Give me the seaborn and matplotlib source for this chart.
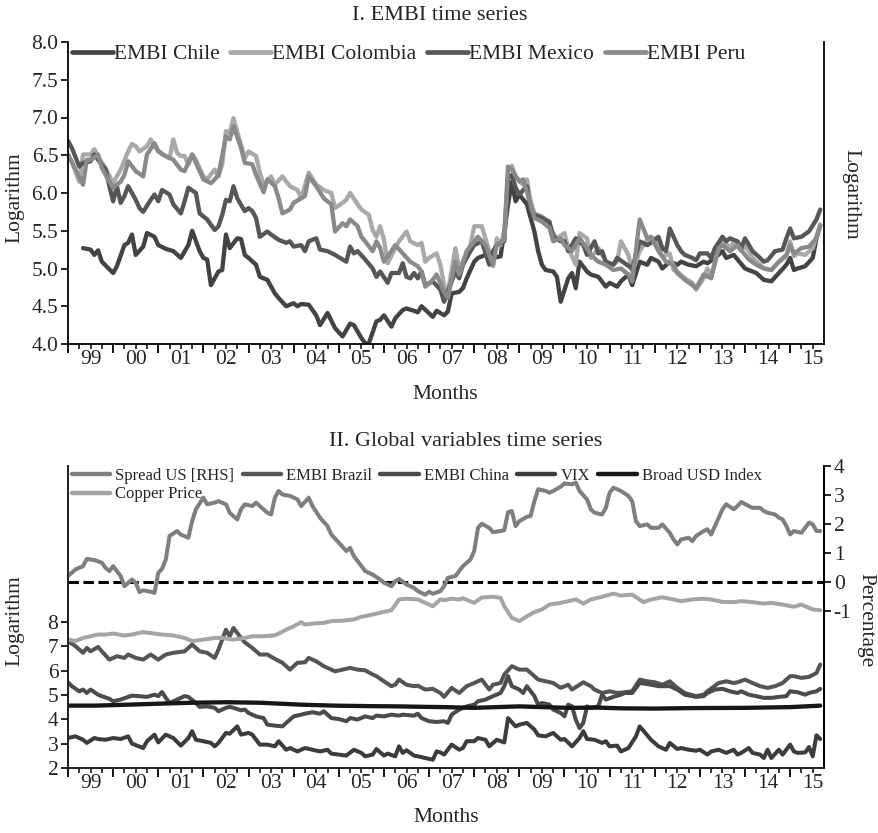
import numpy as np
import matplotlib
matplotlib.use("Agg")
import matplotlib.pyplot as plt
import seaborn as sns
from matplotlib.lines import Line2D
from matplotlib.ticker import FuncFormatter, FixedLocator

sns.set_theme(style="ticks")
plt.rcParams['font.family'] = ['Liberation Serif', 'DejaVu Serif']
plt.rcParams['axes.unicode_minus'] = False

# ---------------- data (month index: 0 = Jan 1999) ----------------
chile_month = [4,6,7,8,9,12,13,15,16,17,18,20,21,23,24,26,28,30,32,33,35,36,37,38,40,41,42,43,45,46,47,48,50,51,53,55,56,58,60,61,62,64,66,67,69,71,73,75,76,78,79,80,82,83,84,86,87,89,90,92,93,94,97,98,
               100,101,102,104,105,106,108,109,111,113,115,116,117,118,119,120,122,123,124,125,126,127,129,130,131,133,134,135,136,138,139,141,143,144,146,147,149,150,152,154,155,157,158,160,162,163,165,167,169,170,172,174,175,177,178,180,181,183,185,187,189,191,192,193,194,196,198,199,200]
chile_value = [5.27,5.25,5.18,5.24,5.09,4.94,5.03,5.31,5.34,5.45,5.18,5.29,5.47,5.42,5.31,5.26,5.23,5.14,5.31,5.50,5.23,5.14,5.12,4.78,4.96,4.98,5.45,5.27,5.40,5.39,5.18,5.14,5.05,4.89,4.85,4.67,4.61,4.50,4.54,4.50,4.53,4.52,4.38,4.25,4.41,4.21,4.10,4.27,4.25,4.08,4.01,4.01,4.30,4.32,4.38,4.23,4.34,4.45,4.47,4.44,4.42,4.50,4.36,4.44,
               4.38,4.43,4.67,4.69,4.74,4.87,5.09,5.14,5.18,5.14,5.16,5.49,5.85,6.15,5.89,5.98,5.85,5.67,5.49,5.23,5.05,4.98,4.96,4.89,4.56,4.87,4.94,4.74,5.09,4.96,4.92,4.89,4.76,4.81,4.76,4.83,4.92,4.78,5.09,5.05,5.14,5.09,5.00,5.09,5.05,5.09,5.05,5.03,5.09,5.07,5.14,5.23,5.14,5.18,5.12,5.00,4.98,4.94,4.85,4.83,4.94,5.05,5.14,4.98,5.00,5.03,5.14,5.40,5.58]

mexico_month = [0,1,3,4,6,7,8,10,11,12,13,14,15,16,18,19,20,22,23,24,25,27,28,30,31,32,34,35,37,39,40,41,42,43,44,45,47,48,49,50,51,53,54,56,58,59,60,62,63,64,66,67,69,71,74,75,76,77,79,81,82,83,85,86,88,89,90,91,92,93,94,95,97,99,
                100,101,103,104,105,107,108,110,112,113,114,116,117,118,119,120,122,123,124,126,128,129,131,132,133,135,137,138,140,141,142,143,145,146,148,150,152,154,155,157,158,159,160,162,163,164,166,167,168,170,171,172,174,175,176,178,179,180,182,184,185,186,188,190,191,192,193,195,197,199,200]
mexico_value = [6.69,6.60,6.35,6.40,6.42,6.51,6.44,6.31,6.09,5.89,6.09,5.87,5.96,6.09,5.91,5.80,5.75,5.91,5.98,5.89,6.04,5.98,5.85,5.73,5.89,6.07,6.00,5.73,5.65,5.51,5.56,5.71,5.91,5.89,6.09,5.93,5.76,5.80,5.76,5.67,5.42,5.49,5.45,5.38,5.34,5.36,5.29,5.31,5.23,5.36,5.40,5.25,5.23,5.18,5.09,5.29,5.20,5.23,5.12,5.00,4.89,4.96,4.81,4.94,4.94,5.07,4.89,4.87,4.94,4.87,4.96,4.78,4.83,4.72,
                4.56,4.69,4.96,4.87,5.05,5.23,5.31,5.36,5.05,5.23,5.31,5.36,6.20,6.24,6.07,5.98,6.09,5.76,5.71,5.67,5.62,5.42,5.36,5.36,5.23,5.40,5.31,5.18,5.36,5.20,5.23,5.09,5.05,5.14,5.07,5.00,5.36,5.31,5.34,5.42,5.27,5.23,5.53,5.31,5.23,5.18,5.14,5.11,5.20,5.20,5.14,5.27,5.42,5.36,5.40,5.36,5.27,5.40,5.23,5.14,5.09,5.11,5.23,5.25,5.40,5.53,5.40,5.42,5.49,5.65,5.78]

colombia_month = [0,1,3,4,6,7,9,10,12,13,14,16,17,18,19,21,22,23,25,27,28,29,30,31,32,33,34,36,37,39,40,41,42,43,44,46,47,48,50,51,52,54,55,57,59,61,62,64,66,68,70,71,73,74,75,77,78,80,81,82,83,84,85,87,88,90,91,93,94,95,96,98,99,
                  100,101,103,104,105,107,108,110,112,113,114,115,116,117,118,119,121,122,123,124,126,127,129,130,132,133,135,136,138,139,141,143,145,146,147,149,150,152,154,156,158,160,161,162,164,166,167,169,170,171,173,174,176,177,179,180,182,184,185,187,189,191,192,193,194,196,198,200]
colombia_value = [6.49,6.42,6.15,6.51,6.51,6.58,6.40,6.33,6.13,6.22,6.31,6.55,6.65,6.62,6.55,6.62,6.71,6.62,6.51,6.46,6.71,6.53,6.49,6.49,6.38,6.51,6.44,6.22,6.18,6.31,6.22,6.38,6.82,6.80,6.99,6.64,6.46,6.55,6.49,6.27,6.11,6.22,6.11,6.22,6.09,6.04,5.93,6.27,6.11,6.04,6.00,5.80,5.87,5.91,6.00,5.85,5.78,5.71,5.51,5.42,5.56,5.38,5.07,5.27,5.36,5.49,5.36,5.31,5.34,5.09,5.14,5.20,5.05,
                  4.78,4.69,5.27,5.00,5.09,5.31,5.56,5.56,5.23,5.03,5.40,5.31,5.49,6.31,6.36,6.22,6.11,6.18,5.89,5.73,5.69,5.65,5.47,5.40,5.47,5.27,5.05,5.47,5.40,5.14,5.27,5.09,5.05,5.09,5.36,5.18,4.96,5.23,5.38,5.40,5.16,5.20,4.98,4.96,4.87,4.81,4.72,4.87,5.00,4.89,5.31,5.38,5.27,5.36,5.23,5.31,5.14,5.05,5.00,4.98,5.09,5.16,5.36,5.16,5.20,5.18,5.27,5.58]

peru_month = [0,2,4,5,6,8,9,11,12,14,15,16,18,20,21,23,24,26,28,30,31,33,34,36,38,39,40,42,43,44,46,47,49,50,52,53,55,56,57,59,60,62,63,64,66,68,70,71,73,74,75,77,78,79,81,82,83,84,86,87,89,91,93,94,95,97,98,
              100,101,103,104,106,108,109,111,113,114,116,117,118,120,121,123,124,126,128,129,131,132,134,136,138,139,141,143,145,147,149,150,152,154,155,157,159,161,162,164,166,167,169,171,173,174,176,178,180,181,183,185,187,189,191,192,193,195,197,199,200]
peru_value = [6.51,6.31,6.11,6.44,6.44,6.51,6.33,6.15,6.07,6.15,6.24,6.42,6.29,6.22,6.51,6.66,6.55,6.49,6.44,6.31,6.29,6.51,6.40,6.18,6.13,6.18,6.24,6.75,6.71,6.88,6.60,6.40,6.38,6.24,6.01,6.18,6.09,5.93,5.73,5.78,5.87,5.93,5.96,6.22,6.09,5.93,5.85,5.49,5.60,5.56,5.65,5.56,5.42,5.36,5.23,5.36,5.27,5.09,5.23,5.31,5.20,5.09,5.03,4.96,4.76,4.85,4.92,
              4.69,4.61,5.09,4.92,5.23,5.36,5.42,5.31,5.05,5.31,5.38,6.35,6.31,6.15,6.18,5.85,5.67,5.62,5.54,5.36,5.40,5.31,5.23,5.40,5.27,5.18,5.09,5.05,4.98,5.00,4.92,4.83,5.65,5.40,5.42,5.23,5.09,5.05,4.94,4.85,4.78,4.74,4.92,4.87,5.27,5.31,5.23,5.31,5.18,5.12,5.05,5.00,4.98,5.09,5.18,5.31,5.20,5.27,5.29,5.40,5.56]

spread_month = [0,2,4,5,7,9,10,11,12,14,15,17,18,19,20,22,23,24,25,26,27,29,30,32,33,34,36,37,39,40,42,43,45,46,47,49,50,51,53,54,55,56,57,59,61,62,64,65,67,69,70,72,74,75,76,78,79,81,83,84,86,87,88,90,92,93,95,96,97,99,
                100,101,103,104,105,107,108,109,110,112,113,115,116,117,118,119,120,122,123,124,125,127,128,129,131,132,134,135,136,138,139,140,142,143,144,145,146,147,149,150,151,152,154,155,157,158,160,161,162,163,165,166,167,169,170,171,173,174,175,177,178,179,181,182,184,185,186,188,189,190,191,192,193,195,197,198,199,200]
spread_value = [0.21,0.44,0.55,0.80,0.76,0.67,0.49,0.38,0.55,0.21,-0.14,0.09,-0.02,-0.34,-0.28,-0.33,-0.37,0.32,0.46,0.78,1.59,1.76,1.64,1.53,2.10,2.51,2.91,2.68,2.74,2.79,2.68,2.39,2.16,2.51,2.68,2.62,2.74,2.62,2.39,2.33,2.91,3.14,3.02,2.97,2.85,2.62,2.91,2.62,2.22,1.93,1.64,1.36,1.07,1.18,0.90,0.55,0.38,0.26,0.09,-0.02,-0.14,0.03,0.11,-0.08,-0.20,-0.31,-0.43,-0.33,-0.40,-0.31,
                -0.14,0.15,0.21,0.38,0.55,0.78,1.07,1.87,2.01,1.87,1.72,1.76,1.79,2.41,2.45,1.93,2.10,2.25,2.28,2.79,3.20,3.14,3.08,3.14,3.29,3.40,3.37,3.43,3.14,2.85,2.51,2.39,2.33,2.56,3.08,3.25,3.20,3.14,2.97,2.79,2.10,1.93,1.99,1.87,1.87,1.99,1.70,1.47,1.30,1.47,1.53,1.41,1.59,1.76,1.82,1.64,2.22,2.51,2.68,2.51,2.62,2.76,2.62,2.56,2.56,2.45,2.39,2.33,2.22,2.16,1.93,1.64,1.76,1.70,2.05,1.99,1.76,1.76]

copper_month = [0,2,4,6,8,10,12,15,17,20,23,25,28,31,33,36,39,41,44,47,49,52,55,56,58,60,62,63,65,68,70,73,76,78,81,84,86,88,90,93,95,97,99,
                100,102,104,105,108,110,113,115,116,118,120,122,124,126,128,131,133,135,137,139,142,145,147,150,153,155,158,161,163,166,169,171,174,177,179,182,185,187,190,193,195,198,200]
copper_value = [7.27,7.21,7.34,7.41,7.48,7.48,7.52,7.44,7.48,7.58,7.52,7.48,7.44,7.34,7.21,7.27,7.34,7.34,7.27,7.34,7.41,7.41,7.45,7.52,7.68,7.82,7.99,7.89,7.93,7.96,8.03,8.05,8.10,8.21,8.30,8.41,8.48,8.92,8.95,8.92,8.78,8.64,8.92,
                8.89,8.95,8.92,8.97,8.78,9.00,9.03,8.99,8.64,8.16,8.03,8.23,8.40,8.51,8.71,8.78,8.85,8.92,8.75,8.92,9.03,9.16,9.08,9.12,8.81,8.92,9.01,8.92,8.85,8.92,8.95,8.92,8.82,8.81,8.85,8.81,8.75,8.78,8.71,8.62,8.71,8.51,8.48]

brazil_month = [0,2,4,5,6,8,9,11,13,15,16,18,20,22,24,26,28,31,33,35,37,39,40,42,43,44,46,47,49,51,53,55,57,59,61,63,64,66,68,70,71,73,75,77,79,81,82,84,86,87,88,90,92,93,95,97,99,
                100,102,104,106,108,110,112,113,115,116,118,120,122,124,125,127,129,131,133,134,136,137,139,140,142,144,146,148,150,152,154,156,158,160,162,164,167,169,170,173,175,177,178,180,182,184,186,188,190,192,193,195,197,199,200]
brazil_value = [7.21,7.00,6.73,6.93,6.79,6.97,6.79,6.45,6.59,6.52,6.66,6.52,6.45,6.66,6.45,6.66,6.73,6.79,7.07,6.79,6.73,6.52,6.86,7.68,7.41,7.75,7.34,7.16,6.93,6.66,6.66,6.48,6.32,6.04,6.32,6.34,6.52,6.38,6.18,6.04,5.97,6.04,6.11,6.04,6.01,5.84,5.77,5.56,5.36,5.42,5.63,5.42,5.36,5.38,5.22,5.25,5.08,
                4.92,5.29,5.08,5.36,5.49,5.63,5.22,5.42,5.49,5.84,6.18,6.04,6.04,5.77,5.63,5.56,5.49,5.29,5.42,5.22,5.42,5.52,5.36,5.22,5.08,5.15,5.08,5.11,5.15,5.63,5.56,5.52,5.42,5.56,5.29,5.08,4.95,5.01,5.15,5.49,5.56,5.49,5.52,5.63,5.49,5.36,5.29,5.36,5.49,5.77,5.77,5.70,5.74,5.90,6.25]

china_month = [0,1,3,4,5,6,8,9,11,12,14,16,17,19,21,23,24,25,26,27,29,31,32,34,35,37,39,40,42,43,44,46,47,48,50,52,53,55,57,58,60,62,63,65,67,68,70,72,74,75,77,79,81,82,84,86,88,89,92,93,94,96,98,
               100,101,102,104,106,108,109,111,113,115,116,117,118,120,121,122,124,125,126,128,129,131,132,133,134,135,136,137,138,139,141,142,143,145,147,148,150,152,153,155,157,160,162,164,167,169,170,172,174,176,178,179,181,183,185,187,189,191,192,194,196,197,199,200]
china_value = [5.52,5.36,5.15,5.22,5.08,5.22,5.01,4.95,4.84,4.74,4.81,4.92,4.97,4.95,4.92,5.01,4.95,5.12,4.88,4.67,4.81,4.95,4.92,4.67,4.51,4.53,4.47,4.33,4.47,4.51,4.47,4.37,4.40,4.26,4.12,4.05,3.78,3.74,3.71,3.85,4.12,4.19,4.23,4.29,4.23,4.33,4.05,4.01,3.92,4.05,3.99,4.12,4.05,4.15,4.12,4.19,4.15,4.19,4.15,4.23,4.05,3.92,3.89,
               3.92,3.85,4.19,4.40,4.53,4.60,4.74,4.81,4.95,5.08,5.36,5.77,5.36,5.22,5.08,5.36,4.95,4.60,4.67,4.60,4.40,4.26,4.12,4.60,4.53,3.99,3.64,3.85,4.53,4.47,4.53,5.01,4.81,4.92,5.01,5.08,5.08,5.49,5.47,5.42,5.36,5.36,5.22,5.01,4.92,4.95,5.08,5.22,5.25,5.15,5.08,5.15,5.01,4.95,4.88,4.88,4.92,4.95,5.15,5.11,5.01,5.08,5.15,5.25]

vix_month = [0,2,4,5,7,8,10,12,14,16,17,20,21,23,24,26,28,30,32,33,34,36,38,39,40,42,43,45,46,48,49,51,53,55,56,58,59,61,63,65,67,69,70,72,74,76,78,79,81,82,84,85,87,88,89,90,92,93,95,97,98,99,
             100,102,104,105,106,108,109,111,112,114,116,117,119,120,122,124,125,127,129,131,132,134,136,137,138,140,142,143,144,146,147,149,151,152,154,155,157,159,160,162,163,165,167,168,170,171,173,175,177,178,179,181,182,184,185,186,187,189,190,192,193,194,196,197,198,199,200]
vix_value = [3.23,3.30,3.16,3.03,3.23,3.19,3.16,3.23,3.19,3.30,3.00,2.82,3.10,3.37,3.05,3.37,3.23,2.92,3.23,3.51,3.16,3.10,3.03,2.89,3.03,3.44,3.41,3.71,3.37,3.44,3.37,2.96,2.96,2.89,3.10,2.75,2.82,2.68,2.82,2.75,2.68,2.75,2.59,2.55,2.51,2.75,2.62,2.48,2.55,2.78,2.51,2.59,2.48,2.89,2.62,2.73,2.51,2.48,2.41,2.34,2.68,2.64,
             2.55,2.96,2.75,2.82,3.10,3.10,3.23,3.16,2.89,3.16,3.05,4.05,3.71,3.78,3.85,3.58,3.34,3.30,3.44,3.16,3.19,2.89,3.23,3.51,3.19,3.16,3.03,3.10,2.89,2.92,2.68,2.82,3.30,3.71,3.34,3.16,2.89,2.75,3.03,2.78,2.82,2.75,2.71,2.75,2.55,2.68,2.75,2.62,2.75,2.55,2.62,2.82,2.62,2.55,2.41,2.75,2.41,2.75,2.55,2.96,2.68,2.62,2.64,2.86,2.48,3.34,3.19]

usd_month = [0,7,16,24,33,42,51,62,71,80,88,95,100,108,114,120,126,133,141,147,156,166,180,192,200]
usd_value = [4.56,4.56,4.60,4.64,4.68,4.70,4.68,4.60,4.56,4.54,4.53,4.51,4.50,4.47,4.50,4.53,4.50,4.47,4.48,4.45,4.44,4.46,4.47,4.50,4.56]

year_labels = ["99","00","01","02","03","04","05","06","07","08","09","10","11","12","13","14","15"]

top_series = [
    ("EMBI Chile", chile_month, chile_value, "#434343"),
    ("EMBI Colombia", colombia_month, colombia_value, "#a9a9a9"),
    ("EMBI Mexico", mexico_month, mexico_value, "#575757"),
    ("EMBI Peru", peru_month, peru_value, "#8a8a8a"),
]
bottom_left = [
    ("EMBI Brazil", brazil_month, brazil_value, "#555555"),
    ("EMBI China", china_month, china_value, "#4b4b4b"),
    ("VIX", vix_month, vix_value, "#3c3c3c"),
    ("Broad USD Index", usd_month, usd_value, "#161616"),
    ("Copper Price", copper_month, copper_value, "#a5a5a5"),
]
spread_color = "#7f7f7f"

# ---------------- figure ----------------
W, H = 879, 833
fig = plt.figure(figsize=(W / 100, H / 100), dpi=100)
def box(l, t, r, b):
    return [l / W, 1 - b / H, (r - l) / W, (b - t) / H]

ax1 = fig.add_axes(box(68, 42, 824, 344))
ax2 = fig.add_axes(box(68, 466, 824, 768))
ax2r = ax2.twinx()

LW_TOP = 3.1
LW_BOT = 2.9

for name, m, v, c in top_series:
    sns.lineplot(x=m, y=v, ax=ax1, color=c, linewidth=LW_TOP, estimator=None,
                 legend=False, solid_joinstyle="round", solid_capstyle="round")

for name, m, v, c in bottom_left:
    lw = 3.1 if name == "Broad USD Index" else LW_BOT
    sns.lineplot(x=m, y=v, ax=ax2, color=c, linewidth=lw, estimator=None,
                 legend=False, solid_joinstyle="round", solid_capstyle="round")

ax2r.axhline(0, color="black", linewidth=2.2, linestyle=(0, (3.4, 1.5)))
sns.lineplot(x=spread_month, y=spread_value, ax=ax2r, color=spread_color, linewidth=LW_BOT,
             estimator=None, legend=False, solid_joinstyle="round", solid_capstyle="round")

def year_fmt(v, pos):
    k = int(round(v))
    if k % 12 == 6:
        i = k // 12
        if 0 <= i < len(year_labels):
            return year_labels[i]
    return ""

for ax in (ax1, ax2):
    ax.set_xlim(0, 201)
    ax.xaxis.set_major_locator(FixedLocator(list(range(0, 201, 12))))
    ax.xaxis.set_minor_locator(FixedLocator([k for k in range(3, 201, 3) if k % 12]))
    ax.xaxis.set_major_formatter(FuncFormatter(lambda v, p: ""))
    ax.xaxis.set_minor_formatter(FuncFormatter(year_fmt))
    ax.tick_params(axis="x", which="major", length=6.5, width=1.3, direction="out", color="black")
    ax.tick_params(axis="x", which="minor", length=3.5, width=1.1, direction="out",
                   labelsize=15.5, pad=0.5, color="black")
    ax.tick_params(axis="y", which="major", length=5, width=1.2, direction="out",
                   labelsize=15.5, pad=2, color="black")
    ax.set_xlabel("")
    ax.set_ylabel("")
    ax.spines["top"].set_visible(False)
    for s in ("left", "bottom", "right"):
        ax.spines[s].set_visible(True)
        ax.spines[s].set_color("black")
        ax.spines[s].set_linewidth(1.3)
    ax.set_facecolor("white")

ax1.set_ylim(4, 8)
ax1.set_yticks(np.arange(4, 8.01, 0.5))
ax1.set_yticklabels([f"{t:.1f}" for t in np.arange(4, 8.01, 0.5)])

ax2.set_ylim(2, 14.4)
ax2.set_yticks(range(2, 9))
ax2.set_yticklabels([str(t) for t in range(2, 9)])

ax2r.set_ylim(-6.4, 4.0)
ax2r.set_yticks(range(-1, 5))
ax2r.set_yticklabels([str(t) for t in range(-1, 5)])
ax2r.tick_params(axis="y", length=5, width=1.2, direction="out", labelsize=15.5, pad=2, color="black")
ax2r.set_ylabel("")
ax2r.spines["top"].set_visible(False)
ax2r.spines["right"].set_linewidth(1.3)
ax2r.spines["right"].set_color("black")

# ---------------- text ----------------
fs = 15.5
fig.text(440 / W, 1 - 15 / H, "I. EMBI time series", ha="center", va="center", fontsize=16)
fig.text(466 / W, 1 - 441 / H, "II. Global variables time series", ha="center", va="center", fontsize=16)
fig.text(445 / W, 1 - 395 / H, "Months", ha="center", va="center", fontsize=fs)
fig.text(446 / W, 1 - 818 / H, "Months", ha="center", va="center", fontsize=fs)
fig.text(15 / W, 1 - 198 / H, "Logarithm", ha="center", va="center", rotation=90, fontsize=fs)
fig.text(851 / W, 1 - 194 / H, "Logarithm", ha="center", va="center", rotation=270, fontsize=fs)
fig.text(15 / W, 1 - 621 / H, "Logarithm", ha="center", va="center", rotation=90, fontsize=fs)
fig.text(866 / W, 1 - 620 / H, "Percentage", ha="center", va="center", rotation=270, fontsize=fs)

# ---------------- legends ----------------
h_top = [Line2D([0], [0], color=c, lw=3.4) for _, _, _, c in top_series]
l_top = [n for n, _, _, _ in top_series]
ax1.legend(h_top, l_top, loc="upper left", bbox_to_anchor=(72 / W, 1 - 44 / H),
           bbox_transform=fig.transFigure, ncol=4, frameon=False, fontsize=15.5,
           handlelength=1.9, handletextpad=0.05, columnspacing=0.5, borderpad=0,
           borderaxespad=0)

col = {n: c for n, _, _, c in bottom_left}
order = [("Spread US [RHS]", spread_color), ("Copper Price", col["Copper Price"]),
         ("EMBI Brazil", col["EMBI Brazil"]), ("EMBI China", col["EMBI China"]),
         ("VIX", col["VIX"]), ("Broad USD Index", col["Broad USD Index"])]
h_bot = [Line2D([0], [0], color=c, lw=3.2) for _, c in order]
l_bot = [n for n, _ in order]
ax2r.legend(h_bot, l_bot, loc="upper left", bbox_to_anchor=(72 / W, 1 - 468 / H),
            bbox_transform=fig.transFigure, ncol=5, frameon=False, fontsize=12,
            handlelength=2.3, handletextpad=0.3, columnspacing=0.5, borderpad=0,
            borderaxespad=0, labelspacing=0.15)

fig.savefig("out.png", dpi=100, facecolor="white")
